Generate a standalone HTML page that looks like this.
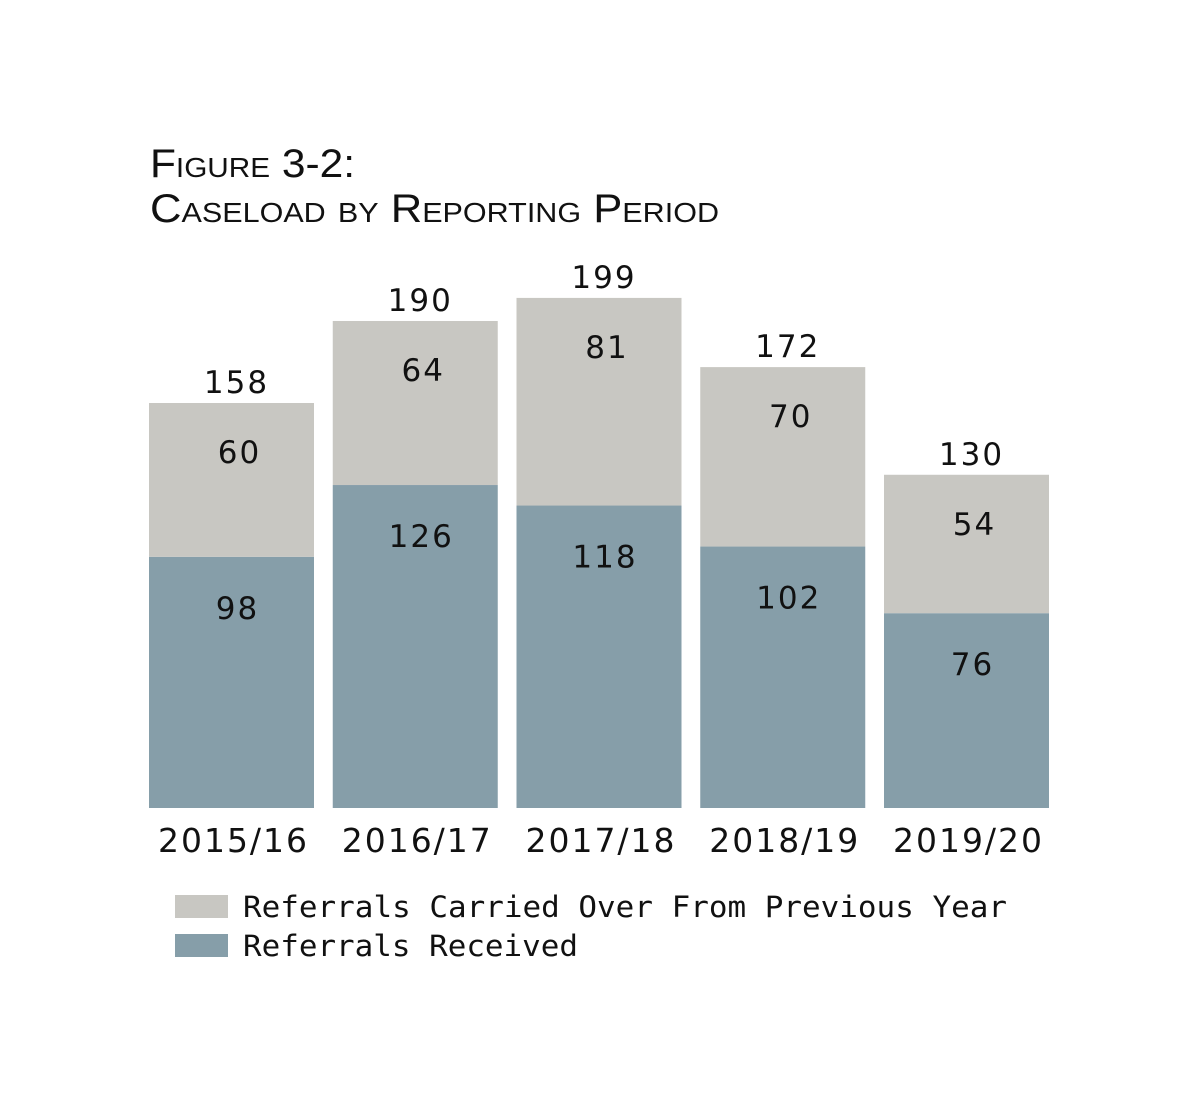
<!DOCTYPE html>
<html><head><meta charset="utf-8"><style>
body{margin:0;background:#fff}
svg text{font-family:"DejaVu Sans","Liberation Sans",sans-serif;fill:#111}
</style></head><body>
<svg id="chart" width="1200" height="1100" viewBox="0 0 1200 1100" xmlns="http://www.w3.org/2000/svg">
<rect width="1200" height="1100" fill="#fff"/>
<text x="150" y="177" font-size="40" style="font-family:'Liberation Sans Narrow','Liberation Sans',sans-serif;font-variant:small-caps" textLength="205" lengthAdjust="spacingAndGlyphs">Figure 3-2:</text>
<text x="150" y="222" font-size="40" style="font-family:'Liberation Sans Narrow','Liberation Sans',sans-serif;font-variant:small-caps" textLength="569" lengthAdjust="spacingAndGlyphs">Caseload by Reporting Period</text>
<g id="bars"></g>
<rect x="175" y="895" width="53" height="23" fill="#c8c7c2"/>
<text x="243" y="917" font-size="29" style="font-family:'DejaVu Sans Mono','Liberation Mono',monospace" textLength="764" lengthAdjust="spacingAndGlyphs">Referrals Carried Over From Previous Year</text>
<rect x="175" y="934" width="53" height="23" fill="#869ea9"/>
<text x="243" y="956" font-size="29" style="font-family:'DejaVu Sans Mono','Liberation Mono',monospace" textLength="335" lengthAdjust="spacingAndGlyphs">Referrals Received</text>
</svg>
<script>
const categories=["2015/16","2016/17","2017/18","2018/19","2019/20"];
const received=[98,126,118,102,76];
const carried=[60,64,81,70,54];
const NS="http://www.w3.org/2000/svg";
const g=document.getElementById('bars');
const base=808, scale=405/158, x0=149, step=183.75, bw=165;
const y=v=>base-v*scale;
function mk(tag,attrs,txt){const e=document.createElementNS(NS,tag);for(const k in attrs)e.setAttribute(k,attrs[k]);if(txt!==undefined)e.textContent=txt;g.appendChild(e);return e;}
categories.forEach((c,i)=>{
  const x=x0+i*step, cx=x+bw/2;
  const r=received[i], o=carried[i], t=r+o;
  let e=mk('rect',{x:x,y:y(r),width:bw,height:base-y(r),fill:'#869ea9'});
  
  
  e=mk('rect',{x:x,y:y(t),width:bw,height:y(r)-y(t),fill:'#c8c7c2'});
  
  
  e=mk('text',{x:cx+6,y:y(r)+62,'font-size':31,'letter-spacing':2,'text-anchor':'middle'},String(r));
  
  
  e=mk('text',{x:cx+8,y:y(t)+60,'font-size':31,'letter-spacing':2,'text-anchor':'middle'},String(o));
  
  
  e=mk('text',{x:cx+5,y:y(t)-10,'font-size':31,'letter-spacing':2,'text-anchor':'middle'},String(t));
  
  
  e=mk('text',{x:cx+2,y:852,'font-size':33,'letter-spacing':2,'text-anchor':'middle'},c);
  
  
});
</script>
</body></html>
